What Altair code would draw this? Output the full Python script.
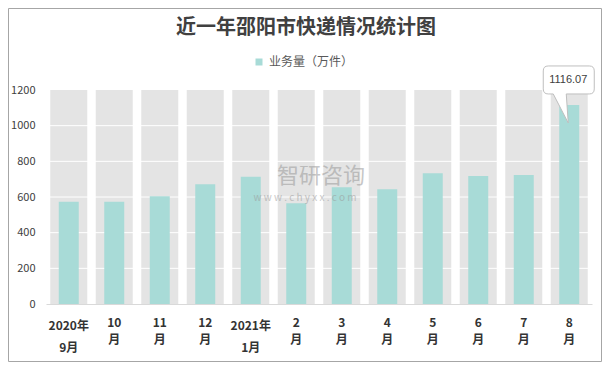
import altair as alt
import pandas as pd

# ---------------- data ----------------
categories = ["2020年9月", "2020年10月", "2020年11月", "2020年12月", "2021年1月", "2021年2月",
              "2021年3月", "2021年4月", "2021年5月", "2021年6月", "2021年7月", "2021年8月"]
label_top = ["2020年", "10", "11", "12", "2021年", "2", "3", "4", "5", "6", "7", "8"]
label_bottom = ["9月", "月", "月", "月", "1月", "月", "月", "月", "月", "月", "月", "月"]
volume = [574, 574, 604, 671, 714, 565, 654, 643, 733, 718, 723, 1116.07]
series_name = "业务量（万件）"
y_ticks = [0, 200, 400, 600, 800, 1000, 1200]
title_text = "近一年邵阳市快递情况统计图"
watermark_cn = "智研咨询"
watermark_url = "w w w . c h y x x . c o m"

FONT = "Noto Sans CJK SC"
TEAL = "#a8dbd7"
BAND = "#e4e4e4"

df = pd.DataFrame({
    "cat": categories,
    "value": volume,
    "top": label_top,
    "bottom": label_bottom,
    "series": series_name,
    "frame": y_ticks[-1],
})
df["year"] = df["top"].str.contains("年")

xscale = alt.Scale(domain=categories, paddingInner=0, paddingOuter=0)
yscale = alt.Scale(domain=[y_ticks[0], y_ticks[-1]], nice=False)
xaxis = alt.Axis(labels=False, ticks=False, title=None, grid=False,
                 domainColor="#d9d9d9", domainWidth=1)
yaxis = alt.Axis(values=y_ticks, title=None, grid=False, ticks=False, domain=False, format="d",
                 labelFont=FONT, labelFontSize=11, labelColor="#404040", labelPadding=11)
X = alt.X("cat:N", scale=xscale, sort=categories, axis=xaxis)

one = pd.DataFrame({"t": [title_text], "w1": [watermark_cn], "w2": [watermark_url]})

base = alt.Chart(df)

border = alt.Chart(one).mark_rect(fillOpacity=0, stroke="#a6a6a6", strokeWidth=1).encode(
    x=alt.value(-37.5), x2=alt.value(555.5), y=alt.value(-81.5), y2=alt.value(271.5))

bands = base.mark_bar(size=37, color=BAND).encode(
    x=X, y=alt.Y("frame:Q", scale=yscale, axis=yaxis))

grid = alt.Chart(pd.DataFrame({"g": y_ticks[1:-1]})).mark_rule(color="white", strokeWidth=1).encode(
    y=alt.Y("g:Q", scale=yscale, axis=yaxis))

bars = base.mark_bar(size=20).encode(
    x=X,
    y=alt.Y("value:Q", scale=yscale, axis=yaxis),
    color=alt.Color("series:N", scale=alt.Scale(range=[TEAL]),
                    legend=alt.Legend(orient="none", legendX=207, legendY=-34, title=None,
                                      symbolType="square", symbolSize=49, symbolStrokeWidth=0,
                                      labelFont=FONT, labelFontSize=12, labelColor="#595959",
                                      padding=0, labelOffset=4)),
)

def xlabel(field, filt, ypos):
    return base.transform_filter(filt).mark_text(
        font=FONT, fontSize=12, fontWeight="bold", color="#333333", baseline="middle"
    ).encode(x=X, y=alt.value(ypos), text=f"{field}:N")

lab1 = xlabel("top", "datum.year", 236)
lab2 = xlabel("top", "!datum.year", 232.5)
lab3 = xlabel("bottom", "datum.year", 258)
lab4 = xlabel("bottom", "!datum.year", 250)

wm1 = alt.Chart(one).mark_text(font=FONT, fontSize=22, color="#9a9a9a", opacity=0.55,
                               baseline="middle").encode(
    x=alt.value(275), y=alt.value(86), text="w1:N")
wm2 = alt.Chart(one).mark_text(font=FONT, fontSize=10, color="#9a9a9a", opacity=0.55,
                               baseline="middle").encode(
    x=alt.value(259), y=alt.value(108), text="w2:N")

CALLOUT = ("M -0.42,-0.78 L 0.40,-0.78 Q 0.5,-0.78 0.5,-0.68 L 0.5,-0.32 Q 0.5,-0.22 0.40,-0.22 "
           "L -0.06,-0.22 L -0.02,0.36 L -0.32,-0.22 L -0.42,-0.22 Q -0.52,-0.22 -0.52,-0.32 "
           "L -0.52,-0.68 Q -0.52,-0.78 -0.42,-0.78 Z")
last = f"datum.cat == '{categories[-1]}'"
callout = base.transform_filter(last).mark_point(
    shape=CALLOUT, size=10000, filled=True, fill="white", stroke="#bfbfbf",
    strokeWidth=1, opacity=1
).encode(x=X, y=alt.Y("value:Q", scale=yscale, axis=yaxis))
callout_text = base.transform_filter(last).mark_text(
    font="Liberation Sans", fontSize=11, color="#404040", dx=-1, dy=-25, baseline="middle"
).encode(x=X, y=alt.Y("value:Q", scale=yscale, axis=yaxis),
         text=alt.Text("value:Q", format=".2f"))

title = alt.Chart(one).mark_text(font=FONT, fontSize=20, fontWeight="bold", color="#404040",
                                 baseline="middle").encode(
    x=alt.value(260), y=alt.value(-62.5), text="t:N")

chart = alt.layer(border, bands, grid, bars, lab1, lab2, lab3, lab4, wm1, wm2,
                  callout, callout_text, title).properties(
    width=546, height=214,
    padding={"left": 38, "top": 82, "right": 10, "bottom": 58},
    autosize="none",
).configure_view(stroke=None)

chart.save("out.html", embed_options={"renderer": "svg", "actions": False})
